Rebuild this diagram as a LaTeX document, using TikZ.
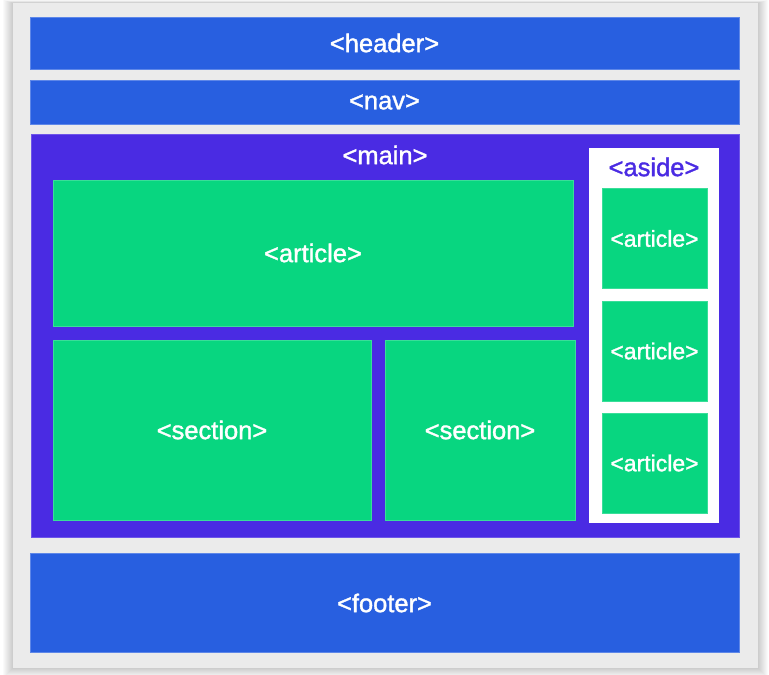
\documentclass[tikz,border=0pt]{standalone}
\usepackage{fontspec}
\setmainfont{Liberation Sans}[BoldFont=Liberation Sans,BoldFeatures={FakeBold=1.4}]

\definecolor{pagegray}{HTML}{EBEBEB}
\definecolor{layoutblue}{HTML}{285FE0}
\definecolor{mainpurple}{HTML}{4A2BE3}
\definecolor{boxgreen}{HTML}{08D680}

\tikzset{
	tagbox/.style={rectangle,inner sep=0pt,text=white,font=\bfseries\fontsize{25.5}{28}\selectfont},
	bluebox/.style={tagbox,fill=layoutblue,draw=layoutblue!75!white,line width=0.6pt},
	greenbox/.style={tagbox,fill=boxgreen,draw=boxgreen!80!white,line width=0.6pt},
}

\begin{document}
\begin{tikzpicture}[x=1pt,y=-1pt]

	\useasboundingbox (0,0) rectangle (769,675);
	\fill[white] (0,0) rectangle (769,675);

	% soft shadow round the page
	\foreach \s in {1,...,10}
		\fill[black,opacity=0.018] (13-\s,3-0.3*\s) rectangle (758+\s,668+\s);
	\fill[pagegray] (13,3) rectangle (758,668);

	\node[bluebox,minimum width=709pt,minimum height=52pt] (header) at (384.5,43) {<header>};
	\node[bluebox,minimum width=709pt,minimum height=44pt] (nav) at (384.5,102) {<nav>};

	\node[tagbox,fill=mainpurple,draw=mainpurple!80!white,line width=0.6pt,
		minimum width=708pt,minimum height=403pt] (main) at (385,335.5) {};
	\node[tagbox] (mainlabel) at (385,155) {<main>};

	\node[greenbox,minimum width=520pt,minimum height=146pt] (article) at (313,253) {<article>};
	\node[greenbox,minimum width=318pt,minimum height=180pt] (section1) at (212,430) {<section>};
	\node[greenbox,minimum width=190pt,minimum height=180pt] (section2) at (480,430) {<section>};

	\node[tagbox,fill=white,minimum width=130pt,minimum height=375pt] (aside) at (654,335.5) {};
	\node[tagbox,text=mainpurple] (asidelabel) at (654,167) {<aside>};

	\foreach \n/\y in {1/238.5,2/351,3/463}
		\node[greenbox,minimum width=105pt,minimum height=100pt,
			font=\bfseries\fontsize{23}{26}\selectfont] (asidearticle\n) at (654.5,\y) {<article>};

	\node[bluebox,minimum width=709pt,minimum height=99pt] (footer) at (384.5,603) {<footer>};

\end{tikzpicture}
\end{document}
